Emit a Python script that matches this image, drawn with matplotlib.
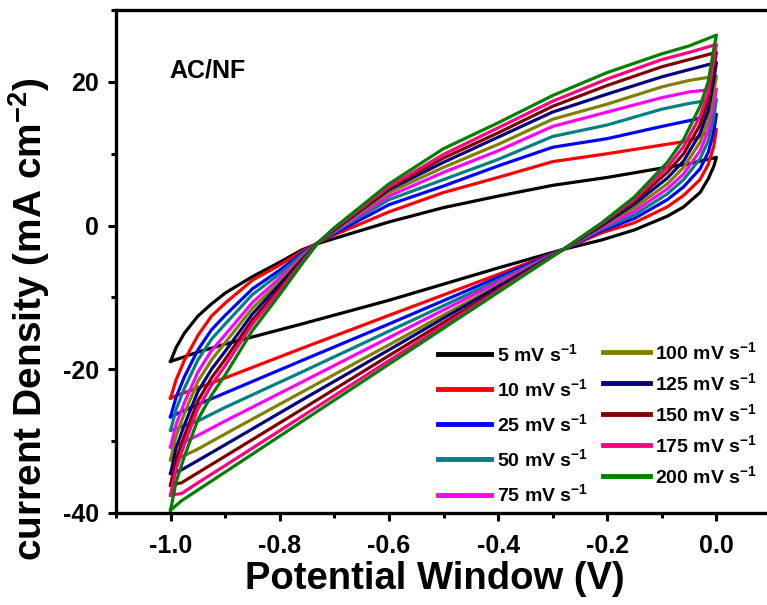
import matplotlib
matplotlib.use("Agg")
import matplotlib.pyplot as plt
from matplotlib.ticker import MultipleLocator

plt.rcParams['font.family'] = ['Liberation Sans', 'DejaVu Sans']
plt.rcParams['font.weight'] = 'bold'
plt.rcParams['mathtext.fontset'] = 'custom'
plt.rcParams['mathtext.rm'] = 'Liberation Sans:bold'
plt.rcParams['mathtext.it'] = 'Liberation Sans:bold'
plt.rcParams['mathtext.bf'] = 'Liberation Sans:bold'

# scan rates and colours (Origin default palette)
rates = [5, 10, 25, 50, 75, 100, 125, 150, 175, 200]
colors = ['#000000', '#ff0000', '#0000ff', '#008080', '#ff00ff',
          '#808000', '#000080', '#800000', '#ff0080', '#008000']

# potential grid of the branch going -1.0 -> 0.0
x_up = [-1.0, -0.99, -0.975, -0.95, -0.925, -0.9, -0.85, -0.8, -0.76, -0.73,
        -0.7, -0.6, -0.5, -0.4, -0.3, -0.2, -0.1, -0.05, 0.0]
# potential grid of the branch going 0.0 -> -1.0
x_down = [0.0, -0.005, -0.015, -0.03, -0.06, -0.09, -0.15, -0.21, -0.28,
          -0.4, -0.6, -0.76, -0.9, -0.95, -0.98, -1.0]

# current density (mA cm-2), one row per scan rate
i_up = [
    [-18.9, -17.0, -15.0, -12.6, -10.9, -9.4, -7.1, -5.1, -3.4, -2.5, -1.8, 0.5, 2.5, 4.1, 5.6, 6.7, 8.0, 8.6, 9.5],
    [-24.0, -21.5, -18.8, -15.3, -12.6, -10.8, -7.6, -5.5, -3.6, -2.4, -1.3, 1.9, 4.6, 6.7, 8.9, 10.0, 11.2, 11.8, 13.4],
    [-26.6, -23.9, -21.1, -17.3, -14.5, -12.5, -8.8, -6.2, -3.9, -2.4, -1.1, 2.9, 5.5, 8.3, 10.9, 12.1, 13.8, 14.6, 15.5],
    [-28.5, -25.6, -22.7, -18.7, -15.8, -13.7, -9.6, -6.7, -4.1, -2.4, -0.9, 3.6, 6.4, 9.2, 12.4, 14.0, 16.2, 17.0, 17.6],
    [-30.8, -27.7, -24.7, -20.4, -17.4, -15.2, -10.7, -7.3, -4.4, -2.4, -0.8, 4.1, 7.4, 10.4, 13.8, 15.8, 17.8, 18.6, 19.0],
    [-32.6, -29.3, -26.2, -21.7, -18.7, -16.3, -11.5, -7.8, -4.6, -2.4, -0.7, 4.6, 8.1, 11.3, 14.8, 16.9, 19.3, 20.2, 20.8],
    [-34.5, -31.0, -27.8, -23.1, -20.0, -17.5, -12.3, -8.2, -4.8, -2.4, -0.6, 5.0, 8.8, 12.3, 15.8, 18.3, 20.7, 21.7, 22.7],
    [-36.1, -32.6, -29.3, -24.4, -21.2, -18.6, -13.1, -8.7, -5.0, -2.4, -0.5, 5.2, 9.4, 12.9, 16.6, 19.5, 22.1, 23.1, 24.1],
    [-37.5, -33.9, -30.5, -25.5, -22.2, -19.5, -13.7, -9.1, -5.2, -2.4, -0.4, 5.4, 9.9, 13.6, 17.3, 20.4, 23.1, 24.1, 25.2],
    [-39.6, -35.7, -32.2, -27.0, -23.6, -20.8, -14.6, -9.6, -5.4, -2.4, -0.3, 5.8, 10.7, 14.3, 18.1, 21.3, 23.9, 25.0, 26.5],
]
i_down = [
    [9.5, 8.2, 6.5, 4.6, 2.6, 1.3, -0.6, -2.0, -3.3, -5.9, -10.4, -13.7, -16.5, -17.6, -18.4, -18.9],
    [13.4, 11.0, 8.5, 6.4, 4.2, 2.6, 0.4, -1.0, -3.3, -6.8, -12.5, -17.1, -21.2, -22.6, -23.4, -24.0],
    [15.5, 13.0, 10.2, 7.9, 5.4, 3.6, 1.0, -0.7, -3.3, -7.2, -13.7, -18.8, -23.3, -24.9, -25.9, -26.6],
    [17.6, 15.0, 11.8, 9.3, 6.4, 4.4, 1.5, -0.5, -3.3, -7.6, -14.7, -20.4, -25.3, -27.2, -28.0, -28.5],
    [19.0, 16.8, 13.2, 10.4, 7.2, 5.1, 2.0, -0.3, -3.3, -7.9, -15.6, -21.8, -27.2, -29.2, -30.3, -30.8],
    [20.8, 18.5, 14.6, 11.6, 8.1, 5.8, 2.5, -0.1, -3.3, -8.3, -16.6, -23.2, -29.0, -31.1, -32.2, -32.6],
    [22.7, 20.2, 16.0, 12.8, 9.0, 6.6, 3.0, 0.0, -3.3, -8.5, -17.3, -24.3, -30.5, -32.7, -34.0, -34.5],
    [24.1, 21.7, 17.4, 14.0, 10.0, 7.4, 3.4, 0.2, -3.3, -8.9, -18.1, -25.6, -32.1, -34.4, -35.8, -36.1],
    [25.2, 23.0, 18.6, 15.2, 11.0, 8.1, 3.7, 0.3, -3.3, -9.1, -18.8, -26.6, -33.4, -35.8, -37.3, -37.5],
    [26.5, 24.5, 20.0, 16.6, 12.0, 8.8, 4.0, 0.4, -3.3, -9.3, -19.3, -27.3, -34.3, -36.8, -38.3, -39.6],
]

fig = plt.figure(figsize=(7.67, 6.05), dpi=100)
ax = fig.add_axes([116/767, 1-513/605, (771-116)/767, (513-10)/605])

handles = []
for k in range(len(rates)):
    xs = x_up + x_down
    ys = i_up[k] + i_down[k]
    line, = ax.plot(xs, ys, color=colors[k], lw=2.3, solid_joinstyle='round',
                    label='%d mV s$^{-1}$' % rates[k])
    handles.append(line)

ax.set_xlim(-1.1, 0.1)
ax.set_ylim(-40, 30)
ax.xaxis.set_minor_locator(MultipleLocator(0.1))
ax.yaxis.set_minor_locator(MultipleLocator(10))
ax.set_xticks([-1.0, -0.8, -0.6, -0.4, -0.2, 0.0])
ax.set_xticklabels(['-1.0', '-0.8', '-0.6', '-0.4', '-0.2', '0.0'])
ax.set_yticks([-40, -20, 0, 20])
ax.set_yticklabels(['-40', '-20', '0', '20'])

for s in ax.spines.values():
    s.set_linewidth(2.4)
ax.tick_params(which='major', direction='out', length=6, width=2.2, labelsize=18, pad=6)
ax.tick_params(which='minor', direction='out', length=3.5, width=2.2)
ax.tick_params(axis='x', which='major', pad=9)

ax.set_xlabel('Potential Window (V)', fontsize=27.5, fontweight='bold')
ax.xaxis.set_label_coords(0.487, -0.095)
ax.set_ylabel('current Density (mA cm$^{-2}$)', fontsize=28, fontweight='bold')
ax.yaxis.set_label_coords(-0.098, 0.385)

ax.text(0.082, 0.88, 'AC/NF', transform=ax.transAxes, fontsize=18,
        fontweight='bold', va='center', ha='left')

leg_kw = dict(loc='upper left', frameon=False, fontsize=14,
              borderpad=0, borderaxespad=0, bbox_transform=fig.transFigure)
leg1 = ax.legend(handles=handles[:5], bbox_to_anchor=(438/767, 1-343/605),
                 labelspacing=0.68, handlelength=2.7, handletextpad=0.35, **leg_kw)
for h in leg1.get_lines():
    h.set_linewidth(3.5)
ax.add_artist(leg1)
leg2 = ax.legend(handles=handles[5:], bbox_to_anchor=(603/767, 1-341/605),
                 labelspacing=0.47, handlelength=2.4, handletextpad=0.25, **leg_kw)
for h in leg2.get_lines():
    h.set_linewidth(3.5)

fig.savefig('out.png', dpi=100)
